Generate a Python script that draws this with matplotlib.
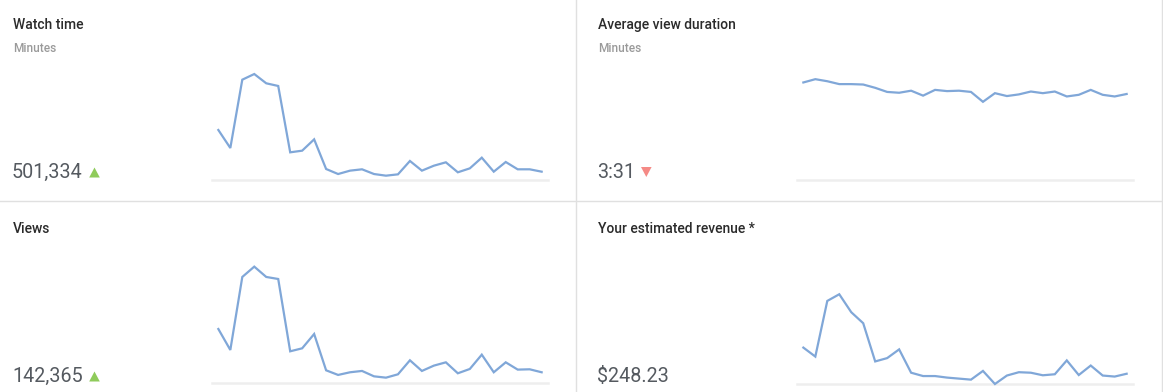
import matplotlib
matplotlib.use("Agg")
import matplotlib.pyplot as plt
from matplotlib.patches import Polygon
import numpy as np

plt.rcParams['font.family'] = ['Roboto', 'DejaVu Sans']

# ---- data (28 days) ----
days = list(range(28))
watch_time_min = [31800, 20350, 63800, 67400, 61500, 59800, 17600, 18650, 25850, 7000,
                  3800, 5950, 6800, 3800, 2750, 3600, 12100, 5950, 9100, 11250,
                  4900, 7400, 14200, 5300, 11450, 6800, 6800, 5300]
avg_view_sec = [237, 245, 240, 233, 233, 232, 224, 214, 212, 217,
                205, 219, 216, 217, 214, 190, 211, 204, 208, 215,
                211, 215, 203, 207, 219, 207, 203, 209]
views = [8570, 5260, 16780, 18410, 16780, 16460, 5050, 5520, 7780, 2050,
         1320, 1740, 1950, 1100, 890, 1420, 3630, 1950, 2790, 3310,
         1580, 2260, 4520, 1740, 3310, 2160, 2210, 1740]
revenue = [14.2, 10.7, 32.4, 35.0, 28.0, 23.7, 8.8, 10.1, 13.5, 4.4,
           3.1, 3.1, 2.5, 2.1, 1.7, 5.1, 0.0, 3.3, 4.6, 4.4,
           3.4, 3.8, 9.2, 3.5, 7.2, 3.3, 2.9, 4.0]

titles = ["Watch time", "Average view duration", "Views", "Your estimated revenue *"]
subtitles = ["Minutes", "Minutes", "", ""]
totals = ["501,334", "3:31", "142,365", "$248.23"]
trends = ["up", "down", "up", None]
series = [watch_time_min, avg_view_sec, views, revenue]
ymax = [76320, 291.6, 18936, 46.8]

W, H = 1163, 392
fig = plt.figure(figsize=(W / 100, H / 100), dpi=100)
fig.patch.set_facecolor("white")

LINE = "#80a7d8"
BASE = "#eeeeee"

# panel geometry in pixels: (axes left, axes right, axes top, axes bottom, text x)
panels = [
    (212, 548, 60, 180, 13),
    (797, 1133, 60, 180, 598),
    (212, 548, 263.3, 383.3, 13),
    (797, 1133, 264, 384, 598),
]
text_y = [(25, 48, 178), (25, 48, 178), (229, 252, 382), (229, 252, 382)]
tri_x = [94.5, 646.3, 94.5, None]

for i, (l, r, t, b, tx) in enumerate(panels):
    ax = fig.add_axes([l / W, 1 - b / H, (r - l) / W, (b - t) / H])
    ax.set_xlim(-0.53, 27.53)
    ax.set_ylim(0, ymax[i])
    ax.axhline(0, color=BASE, lw=1.8, zorder=1, clip_on=False)
    ax.plot(days, series[i], color=LINE, lw=1.6, zorder=2, clip_on=False,
            solid_joinstyle="miter")
    ax.axis("off")

# overlay axes in pixel coordinates for text and decoration
ov = fig.add_axes([0, 0, 1, 1], zorder=-1)
ov.set_xlim(0, W)
ov.set_ylim(H, 0)
ov.axis("off")

SEP = "#e0e0e0"
ov.plot([576, 576], [0, H], color=SEP, lw=1)
ov.plot([0, W], [201, 201], color=SEP, lw=1)
ov.plot([1162, 1162], [0, H], color=SEP, lw=1)

for i, (l, r, t, b, tx) in enumerate(panels):
    ty, sy, vy = text_y[i]
    ov.text(tx, ty, titles[i], fontsize=10, fontweight="medium", color="#2b2b2b",
            va="center", ha="left")
    if subtitles[i]:
        ov.text(tx, sy, subtitles[i], fontsize=8.6, fontweight="medium", color="#9a9a9a",
                va="center", ha="left")
    ov.text(tx - 1, vy, totals[i], fontsize=14.2, color="#555a60",
            va="baseline", ha="left")
    if trends[i] == "up":
        cx = tri_x[i]
        ov.add_patch(Polygon([(cx - 5.3, vy - 0.5), (cx + 5.3, vy - 0.5), (cx, vy - 10.5)],
                             closed=True, color="#8fcb5b", lw=0))
    elif trends[i] == "down":
        cx = tri_x[i]
        ov.add_patch(Polygon([(cx - 5.3, vy - 11), (cx + 5.3, vy - 11), (cx, vy - 1)],
                             closed=True, color="#f58a86", lw=0))

fig.savefig("out.png", dpi=100, facecolor="white")
